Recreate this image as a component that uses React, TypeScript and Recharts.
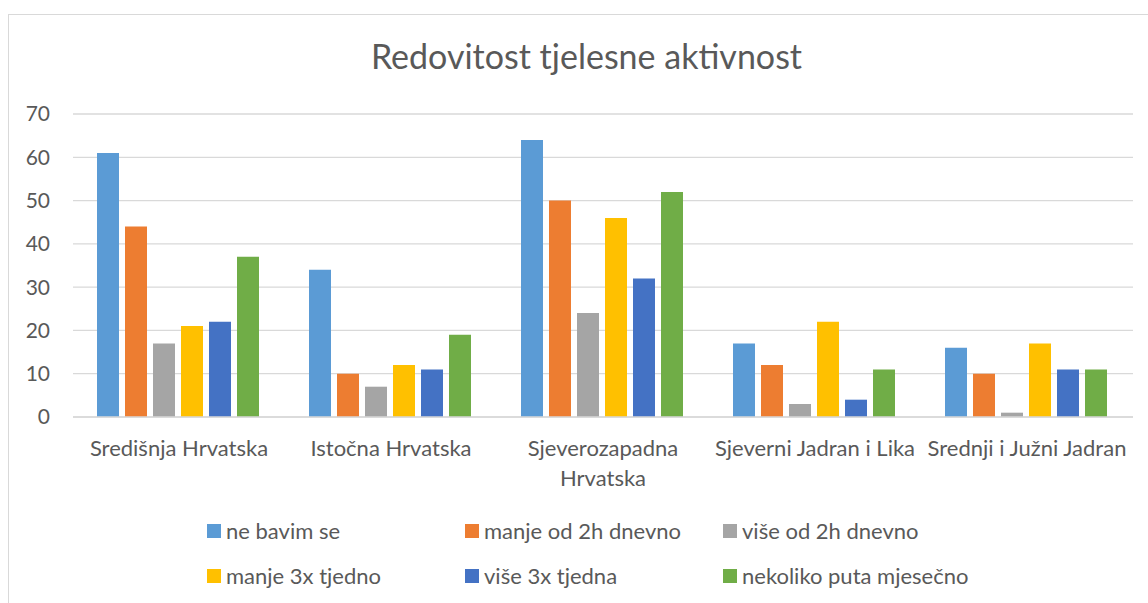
import React from "react";
import { BarChart, Bar, XAxis, YAxis, CartesianGrid, Legend } from "recharts";

const categories = [
  "Središnja Hrvatska",
  "Istočna Hrvatska",
  "Sjeverozapadna Hrvatska",
  "Sjeverni Jadran i Lika",
  "Srednji i Južni Jadran",
];
const neBavimSe = [61, 34, 64, 17, 16];
const manjeOd2h = [44, 10, 50, 12, 10];
const viseOd2h = [17, 7, 24, 3, 1];
const manje3x = [21, 12, 46, 22, 17];
const vise3x = [22, 11, 32, 4, 11];
const nekolikoPuta = [37, 19, 52, 11, 11];
const yTicks = [0, 10, 20, 30, 40, 50, 60, 70];

const seriesNames = [
  "ne bavim se",
  "manje od 2h dnevno",
  "više od 2h dnevno",
  "manje 3x tjedno",
  "više 3x tjedna",
  "nekoliko puta mjesečno",
];
const seriesValues = [neBavimSe, manjeOd2h, viseOd2h, manje3x, vise3x, nekolikoPuta];
const seriesColors = ["#5B9BD5", "#ED7D31", "#A5A5A5", "#FFC000", "#4472C4", "#70AD47"];
const keys = ["s0", "s1", "s2", "s3", "s4", "s5"];

const data = categories.map((c, i) => {
  const row: any = { category: c };
  keys.forEach((k, j) => {
    row[k] = seriesValues[j][i];
  });
  return row;
});

const TEXT = "#595959";
const FONT = "Lato, 'Open Sans', sans-serif";

const CategoryTick = (props: any) => {
  const { x, y, payload } = props;
  const label: string = payload.value;
  const lines = label === "Sjeverozapadna Hrvatska" ? ["Sjeverozapadna", "Hrvatska"] : [label];
  return (
    <g>
      {lines.map((ln, i) => (
        <text key={i} x={x} y={y + 39 + i * 30} textAnchor="middle" fill={TEXT} fontSize={22} fontFamily={FONT}>
          {ln}
        </text>
      ))}
    </g>
  );
};

const LegendContent = (props: any) => {
  const payload: any[] = (props.payload || []).slice();
  payload.sort((a, b) => seriesNames.indexOf(a.value) - seriesNames.indexOf(b.value));
  const colX = [198, 456, 714];
  const rowY = [0, 45];
  return (
    <svg width={1139} height={95} style={{ display: "block" }}>
      {payload.map((p: any, i: number) => {
        const cx = colX[i % 3];
        const ry = rowY[Math.floor(i / 3)];
        return (
          <g key={i}>
            <rect x={cx} y={ry + 14} width={14} height={14} fill={p.color} />
            <text x={cx + 19} y={ry + 29} fill={TEXT} fontSize={22} fontFamily={FONT}>
              {p.value}
            </text>
          </g>
        );
      })}
    </svg>
  );
};

export default function App() {
  return (
    <div
      style={{
        position: "absolute",
        left: 8,
        top: 14,
        width: 1139,
        height: 588,
        borderTop: "1px solid #D9D9D9",
        borderLeft: "1px solid #D9D9D9",
        fontFamily: FONT,
        background: "#fff",
      }}
    >
      <BarChart
        width={1139}
        height={588}
        data={data}
        margin={{ top: 99, right: 15, bottom: 126, left: 0 }}
        barCategoryGap={24}
        barGap={6}
      >
        <CartesianGrid vertical={false} stroke="#D9D9D9" strokeWidth={1.3} />
        <XAxis
          dataKey="category"
          height={60}
          axisLine={{ stroke: "#D9D9D9", strokeWidth: 1.3 }}
          tickLine={false}
          tickSize={0}
          tickMargin={0}
          interval={0}
          tick={<CategoryTick />}
        />
        <YAxis
          width={64}
          domain={[0, 70]}
          ticks={yTicks}
          axisLine={false}
          tickLine={false}
          tickMargin={17}
          tick={{ fill: TEXT, fontSize: 21, fontFamily: FONT }}
        />
        <Legend
          layout="horizontal"
          verticalAlign="middle"
          align="center"
          itemSorter={null as any}
          wrapperStyle={{ position: "absolute", left: 0, top: 495, width: 1139, height: 95 }}
          content={<LegendContent />}
        />
        {keys.map((k, j) => (
          <Bar key={k} dataKey={k} name={seriesNames[j]} fill={seriesColors[j]} isAnimationActive={false} />
        ))}
      </BarChart>
      <svg width={1139} height={100} style={{ position: "absolute", left: 0, top: 0, pointerEvents: "none" }}>
        <text x={577.5} y={53.5} textAnchor="middle" fill={TEXT} fontSize={34} fontFamily={FONT}>
          Redovitost tjelesne aktivnost
        </text>
      </svg>
    </div>
  );
}
